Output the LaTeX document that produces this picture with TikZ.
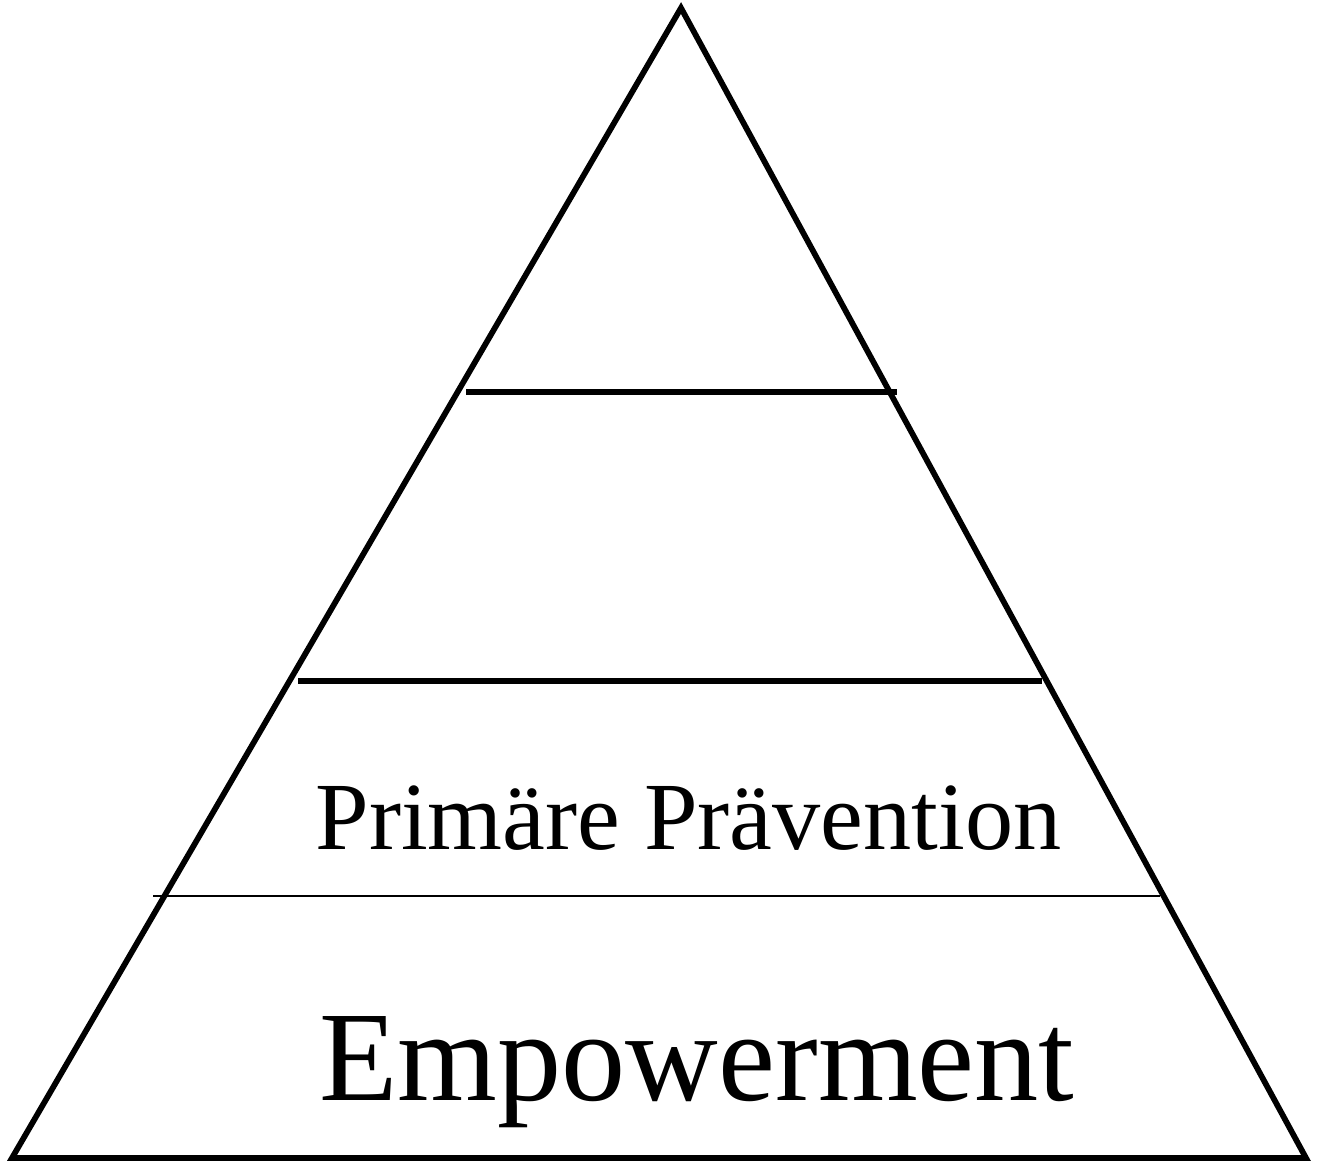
\documentclass[tikz,border=0pt]{standalone}
\usepackage{fontspec}
\setmainfont{Liberation Serif}

\begin{document}
\begin{tikzpicture}[x=0.02cm,y=-0.02cm,line width=0.115cm]
    \useasboundingbox (0,0) rectangle (1319,1162);
    \coordinate (top) at (681,8);
    \coordinate (bl) at (12,1158);
    \coordinate (br) at (1306,1158);
    \draw (top) -- (bl) -- (br) -- cycle;
    \draw (466,392) -- (897,392);
    \draw (298,681) -- (1042,681);
    \draw[line width=0.04cm] (153,896) -- (1160,896);
    \node[anchor=base,inner sep=0pt] (praev) at (688.5,849) {\fontsize{54.8}{60}\selectfont Primäre Prävention};
    \node[anchor=base,inner sep=0pt] (empow) at (697,1100) {\fontsize{73}{80}\selectfont Empowerment};
\end{tikzpicture}
\end{document}
